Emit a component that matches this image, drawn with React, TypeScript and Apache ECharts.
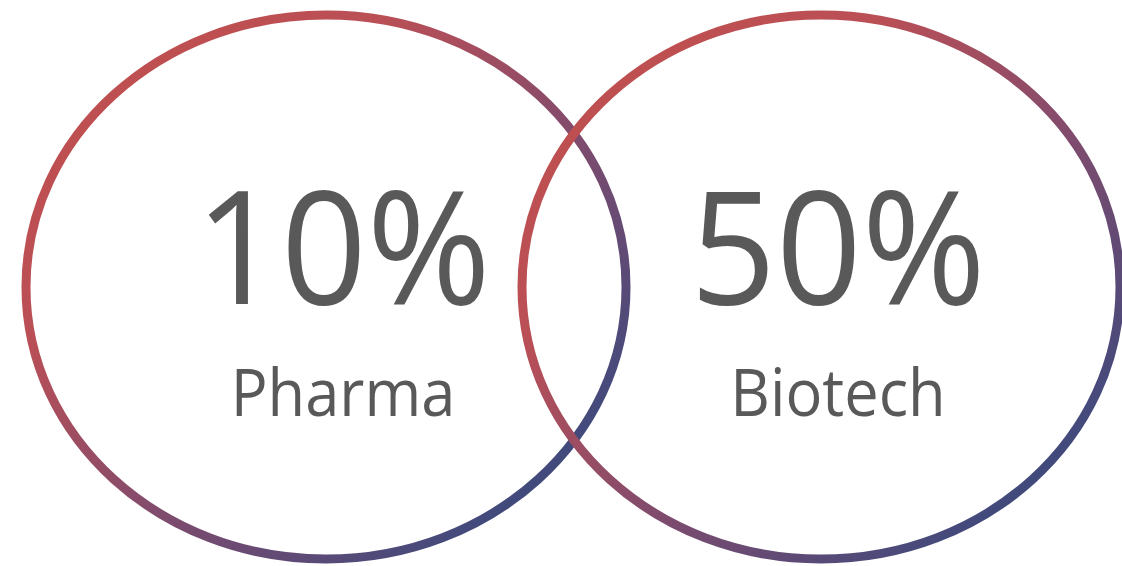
import React, { useEffect, useRef } from "react";
import * as echarts from "echarts";

const categories = ["Pharma", "Biotech"];
const values = [10, 50];

const ELLIPSES = [
  { cx: 326, cy: 287, rx: 300, ry: 272 },
  { cx: 821, cy: 287, rx: 299, ry: 272 },
];
const TEXT_OFFSET_X = 17;

export default function App() {
  const ref = useRef<HTMLDivElement>(null);
  useEffect(() => {
    document.body.style.margin = "0";
    const chart = echarts.init(ref.current!, null, { renderer: "svg" });
    const grad = () =>
      new echarts.graphic.LinearGradient(0, 0, 1, 1, [
        { offset: 0, color: "#C2504C" },
        { offset: 0.3, color: "#BA4F56" },
        { offset: 0.58, color: "#7E4B6E" },
        { offset: 0.85, color: "#424A7C" },
        { offset: 1, color: "#3E4A7E" },
      ]);
    const elements: any[] = [];
    categories.forEach((name, i) => {
      const e = ELLIPSES[i];
      elements.push({
        type: "ellipse",
        shape: { cx: e.cx, cy: e.cy, rx: e.rx, ry: e.ry },
        style: { fill: "none", stroke: grad(), lineWidth: 9 },
        silent: true,
      });
    });
    categories.forEach((name, i) => {
      const e = ELLIPSES[i];
      const tx = e.cx + TEXT_OFFSET_X;
      elements.push({
        type: "text",
        x: tx,
        y: 242,
        scaleX: 0.95,
        style: {
          text: values[i] + "%",
          fontFamily: "Open Sans",
          fontSize: 158,
          fill: "#595959",
          align: "center",
          verticalAlign: "middle",
        },
      });
      elements.push({
        type: "text",
        x: tx,
        y: 391,
        scaleX: 0.93,
        style: {
          text: name,
          fontFamily: "Open Sans",
          fontSize: 66,
          fill: "#595959",
          align: "center",
          verticalAlign: "middle",
        },
      });
    });
    chart.setOption({ animation: false, graphic: { elements } });
    return () => chart.dispose();
  }, []);
  return (
    <div
      ref={ref}
      style={{ position: "fixed", left: 0, top: 0, width: 1122, height: 566, background: "#fff" }}
    />
  );
}
